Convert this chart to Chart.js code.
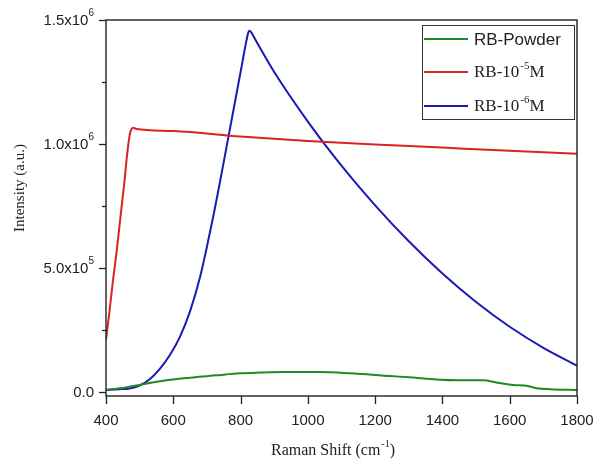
<!DOCTYPE html>
<html>
<head>
<meta charset="utf-8">
<script src="https://cdn.jsdelivr.net/npm/chart.js@4/dist/chart.umd.min.js"></script>
<style>
html,body{margin:0;padding:0;background:#fff;}
#wrap{position:relative;width:606px;height:461px;}
</style>
</head>
<body>
<div id="wrap"><canvas id="c" width="606" height="461"></canvas></div>
<script>
// ---- data ----
const powderX = [400, 450, 501, 550, 630, 729, 798, 858, 927, 1036, 1125, 1244, 1313, 1393, 1450, 1522, 1560, 1611, 1650, 1680, 1720, 1800];
const powderY = [7000, 15000, 27000, 40000, 54000, 66000, 74000, 77000, 79000, 79000, 74000, 63000, 57000, 48000, 46000, 46000, 37000, 27000, 24000, 14000, 10000, 7000];

const m5X = [400, 410, 420, 432, 445, 455, 463, 471, 476, 481, 490, 600, 800, 1000, 1200, 1400, 1600, 1800];
const m5Y = [210000, 320000, 440000, 570000, 730000, 850000, 960000, 1040000, 1060000, 1065000, 1060000, 1052000, 1030000, 1012000, 998000, 985000, 972000, 960000];

const m6X = [400, 440, 470, 500, 530, 560, 590, 620, 650, 680, 700, 720, 740, 760, 780, 800, 815, 822, 826, 832, 840, 900, 1000, 1100, 1200, 1300, 1400, 1500, 1600, 1700, 1800];
const m6Y = [7000, 10000, 13000, 25000, 50000, 92000, 148000, 222000, 325000, 465000, 585000, 715000, 855000, 1000000, 1145000, 1290000, 1400000, 1445000, 1457000, 1450000, 1430000, 1290000, 1090000, 912000, 752000, 607000, 477000, 362000, 262000, 177000, 105000];

const seriesLabels = ['RB-Powder', 'RB-10\u207B\u2075M', 'RB-10\u207B\u2076M'];
const seriesColors = ['#1f8a24', '#dd2222', '#1a1ab4'];

const xTickValues = [400, 600, 800, 1000, 1200, 1400, 1600, 1800];
const xTickLabels = ['400', '600', '800', '1000', '1200', '1400', '1600', '1800'];
const yTickValues = [0, 250000, 500000, 750000, 1000000, 1250000, 1500000];
const yTickBase = ['0.0', '', '5.0x10', '', '1.0x10', '', '1.5x10'];
const yTickExp = ['', '', '5', '', '6', '', '6'];

const xTitle = ['Raman Shift (cm', '-1', ')'];
const yTitle = 'Intensity (a.u.)';
const legendParts = [['RB-Powder', '', ''], ['RB-10', '-5', 'M'], ['RB-10', '-6', 'M']];

const toPts = (xs, ys) => xs.map((x, i) => ({x: x, y: ys[i]}));

const decor = {
  id: 'decor',
  afterDraw(chart) {
    const ctx = chart.ctx, a = chart.chartArea;
    const xs = chart.scales.x, ys = chart.scales.y;
    const sans = '"Liberation Sans", Arial, sans-serif';
    const serif = '"Liberation Serif", "Times New Roman", serif';
    ctx.save();
    // frame
    ctx.strokeStyle = '#222';
    ctx.lineWidth = 1.4;
    ctx.strokeRect(a.left, a.top, a.right - a.left, a.bottom - a.top);
    // y ticks + labels
    ctx.lineWidth = 1.3;
    ctx.fillStyle = '#222';
    ctx.textBaseline = 'middle';
    yTickValues.forEach((v, i) => {
      const py = Math.round(ys.getPixelForValue(v)) + 0.5;
      const len = yTickBase[i] ? 7 : 4;
      ctx.beginPath(); ctx.moveTo(a.left - len, py); ctx.lineTo(a.left, py); ctx.stroke();
      if (yTickBase[i]) {
        const right = 94;
        ctx.font = '10px ' + sans;
        const we = yTickExp[i] ? ctx.measureText(yTickExp[i]).width : 0;
        ctx.textAlign = 'right';
        if (yTickExp[i]) ctx.fillText(yTickExp[i], right, py - 7);
        ctx.font = '15px ' + sans;
        ctx.fillText(yTickBase[i], right - we, py);
      }
    });
    // x ticks
    xTickValues.forEach(v => {
      const px = Math.round(xs.getPixelForValue(v)) + 0.5;
      ctx.beginPath(); ctx.moveTo(px, a.bottom); ctx.lineTo(px, a.bottom + 8); ctx.stroke();
    });
    // x title with superscript
    ctx.font = '16px ' + serif;
    const w0 = ctx.measureText(xTitle[0]).width;
    const w2 = ctx.measureText(xTitle[2]).width;
    ctx.font = '10px ' + serif;
    const w1 = ctx.measureText(xTitle[1]).width;
    let tx = (a.left + a.right) / 2 - 9 - (w0 + w1 + w2) / 2;
    const ty = 451;
    ctx.textAlign = 'left';
    ctx.font = '16px ' + serif;
    ctx.fillText(xTitle[0], tx, ty);
    ctx.font = '10px ' + serif;
    ctx.fillText(xTitle[1], tx + w0 + 1, ty - 7);
    ctx.font = '16px ' + serif;
    ctx.fillText(xTitle[2], tx + w0 + w1 + 1, ty);
    // y title
    ctx.save();
    ctx.translate(20, 188);
    ctx.rotate(-Math.PI / 2);
    ctx.textAlign = 'center';
    ctx.font = '15px ' + serif;
    ctx.fillText(yTitle, 0, 0);
    ctx.restore();
    // legend
    const lx = 422, ly = 25, lw = 152, lh = 94;
    ctx.fillStyle = '#fff';
    ctx.fillRect(lx, ly, lw, lh);
    ctx.strokeStyle = '#333';
    ctx.lineWidth = 1;
    ctx.strokeRect(lx + 0.5, ly + 0.5, lw, lh);
    const rows = [39, 72, 106];
    legendParts.forEach((p, i) => {
      ctx.strokeStyle = seriesColors[i];
      ctx.lineWidth = 2;
      ctx.beginPath(); ctx.moveTo(424, rows[i]); ctx.lineTo(468, rows[i]); ctx.stroke();
      ctx.fillStyle = '#222';
      ctx.textAlign = 'left';
      if (i === 0) {
        ctx.font = '17px ' + sans;
        ctx.fillText(p[0], 474, rows[i] + 1);
      } else {
        ctx.font = '17px ' + serif;
        const a0 = ctx.measureText(p[0]).width;
        ctx.fillText(p[0], 474, rows[i] + 1);
        ctx.font = '11px ' + serif;
        const a1 = ctx.measureText(p[1]).width;
        ctx.fillText(p[1], 474 + a0 + 1, rows[i] - 6);
        ctx.font = '17px ' + serif;
        ctx.fillText(p[2], 474 + a0 + a1 + 1, rows[i] + 1);
      }
    });
    ctx.restore();
  }
};

const mkDs = (i, xs, ys) => ({
  label: seriesLabels[i],
  data: toPts(xs, ys),
  borderColor: seriesColors[i],
  backgroundColor: seriesColors[i],
  borderWidth: 2,
  pointRadius: 0,
  cubicInterpolationMode: 'monotone',
  fill: false
});

new Chart(document.getElementById('c'), {
  type: 'line',
  data: {
    datasets: [mkDs(0, powderX, powderY), mkDs(1, m5X, m5Y), mkDs(2, m6X, m6Y)]
  },
  options: {
    responsive: false,
    animation: false,
    events: [],
    layout: {padding: {top: 20, right: 29, left: 0, bottom: 0}},
    plugins: {legend: {display: false}, tooltip: {enabled: false}},
    scales: {
      x: {
        type: 'linear',
        min: 400, max: 1800,
        afterFit(s) { s.height = 65; },
        afterBuildTicks(s) { s.ticks = xTickValues.map(v => ({value: v})); },
        border: {display: false},
        grid: {display: true, drawOnChartArea: false, drawTicks: true, tickLength: 8, color: 'rgba(0,0,0,0)'},
        ticks: {
          padding: 8,
          maxRotation: 0,
          autoSkip: false,
          color: '#222',
          font: {family: '"Liberation Sans", Arial, sans-serif', size: 15},
          callback(v) { const i = xTickValues.indexOf(v); return i >= 0 ? xTickLabels[i] : ''; }
        }
      },
      y: {
        type: 'linear',
        min: -17500, max: 1500000,
        afterFit(s) { s.width = 106; },
        afterBuildTicks(s) { s.ticks = yTickValues.map(v => ({value: v})); },
        border: {display: false},
        grid: {display: true, drawOnChartArea: false, drawTicks: true, tickLength: 4, color: 'rgba(0,0,0,0)'},
        ticks: {display: false}
      }
    }
  },
  plugins: [decor]
});
</script>
</body>
</html>
